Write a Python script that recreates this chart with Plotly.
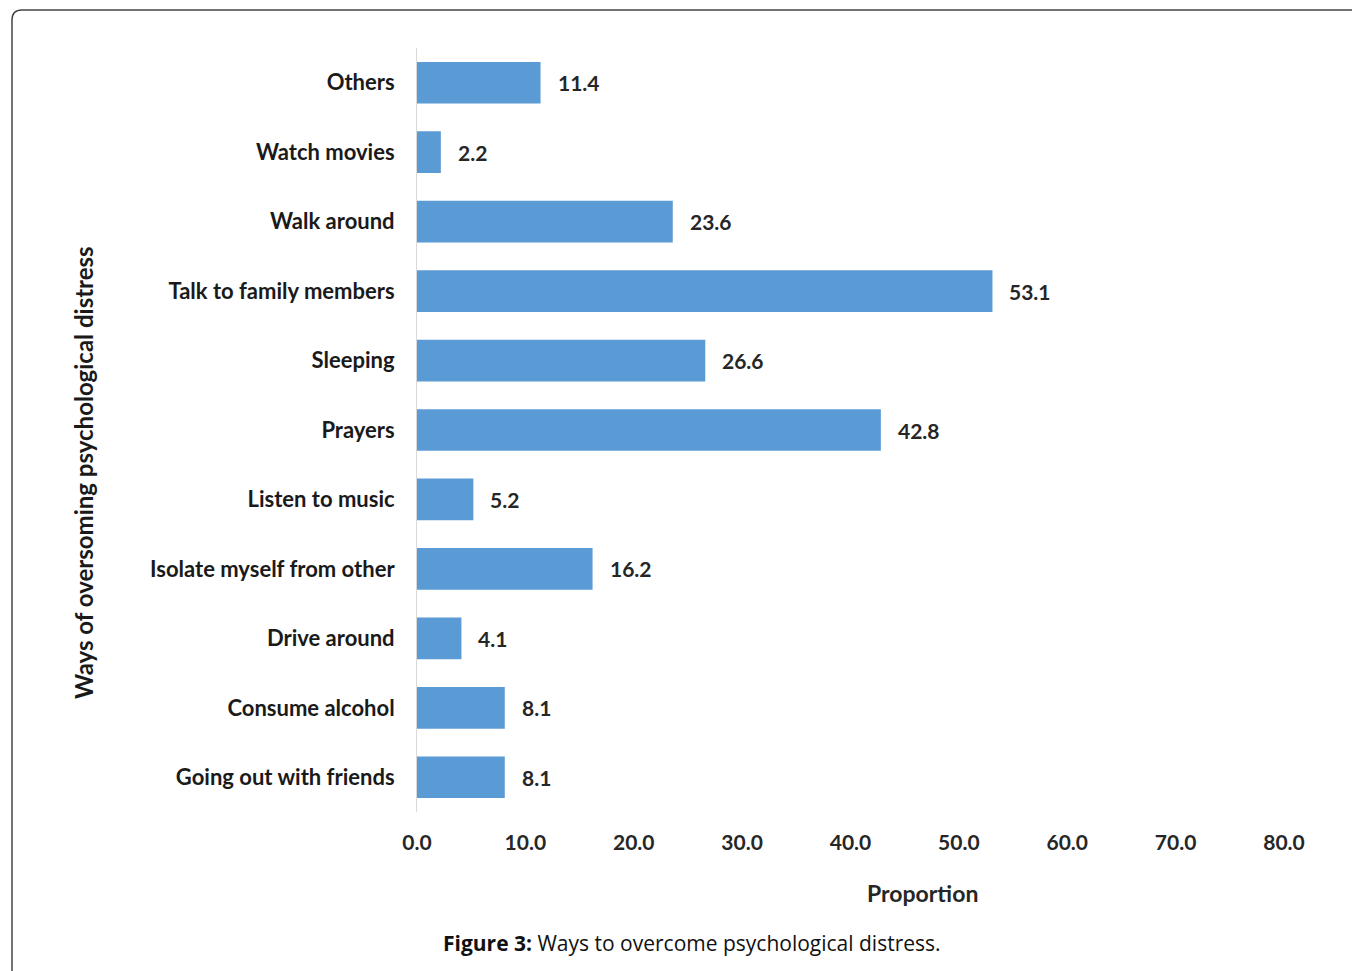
import plotly.graph_objects as go

categories = ["Going out with friends", "Consume alcohol", "Drive around",
              "Isolate myself from other", "Listen to music", "Prayers",
              "Sleeping", "Talk to family members", "Walk around",
              "Watch movies", "Others"]
values = [8.1, 8.1, 4.1, 16.2, 5.2, 42.8, 26.6, 53.1, 23.6, 2.2, 11.4]
x_ticks = [0, 10, 20, 30, 40, 50, 60, 70, 80]

# page has an 8px body margin, so work in page coords and shift by 8
OFF = 8
W, H = 1360 - OFF, 971 - OFF
L, R, T, B = 417 - OFF, 1284 - OFF, 48 - OFF, 812 - OFF
pw, ph = R - L, B - T

def px(x):
    return (x - OFF - L) / pw

def py(y):
    return (B - (y - OFF)) / ph

FONT = "Lato"
BAR = "#5B9BD5"

fig = go.Figure()
fig.add_trace(go.Bar(
    y=categories, x=values, orientation="h",
    marker=dict(color=BAR, line=dict(width=0)),
    hoverinfo="skip",
))

for c, v in zip(categories, values):
    fig.add_annotation(x=v, y=c, xref="x", yref="y", text=f"{v:.1f}",
                       showarrow=False, xanchor="left", yanchor="middle", xshift=15,
                       font=dict(family=FONT, size=21, color="#262626", weight="bold"))

fig.add_annotation(x=px(83), y=py(473), xref="paper", yref="paper",
                   xanchor="center", yanchor="middle",
                   text="Ways of oversoming psychological distress", textangle=-90,
                   showarrow=False, font=dict(family=FONT, size=24, color="#1a1a1a", weight="bold"))
fig.add_annotation(x=px(922), y=py(893), xref="paper", yref="paper",
                   xanchor="center", yanchor="middle",
                   text="Proportion", showarrow=False,
                   font=dict(family=FONT, size=23, color="#262626", weight="bold"))
fig.add_annotation(x=px(692), y=py(943), xref="paper", yref="paper",
                   xanchor="center", yanchor="middle",
                   text="<b>Figure 3:</b> Ways to overcome psychological distress.",
                   showarrow=False, font=dict(family="Open Sans", size=21, color="#111111"))

path = (f"M {px(12)},{py(990)} L {px(12)},{py(20)} Q {px(12)},{py(10)} {px(22)},{py(10)} "
        f"L {px(1375)},{py(10)}")
fig.add_shape(type="path", path=path, xref="paper", yref="paper",
              line=dict(color="#444444", width=1.5))

fig.update_layout(
    width=W, height=H,
    margin=dict(l=L, r=W - R, t=T, b=H - B, pad=0),
    paper_bgcolor="white", plot_bgcolor="white",
    bargap=0.4, showlegend=False,
    xaxis=dict(range=[0, 80], tickvals=x_ticks, ticktext=[f"{t:.1f}" for t in x_ticks],
               showgrid=False, zeroline=False, showline=False, ticks="",
               ticklabelstandoff=16,
               tickfont=dict(family=FONT, size=21, color="#262626", weight="bold")),
    yaxis=dict(showgrid=False, zeroline=False, showline=True, linecolor="#d9d9d9",
               linewidth=1, ticks="", ticklabelstandoff=17,
               tickfont=dict(family=FONT, size=22, color="#1a1a1a", weight="bold")),
)

fig.write_html("out.html")
